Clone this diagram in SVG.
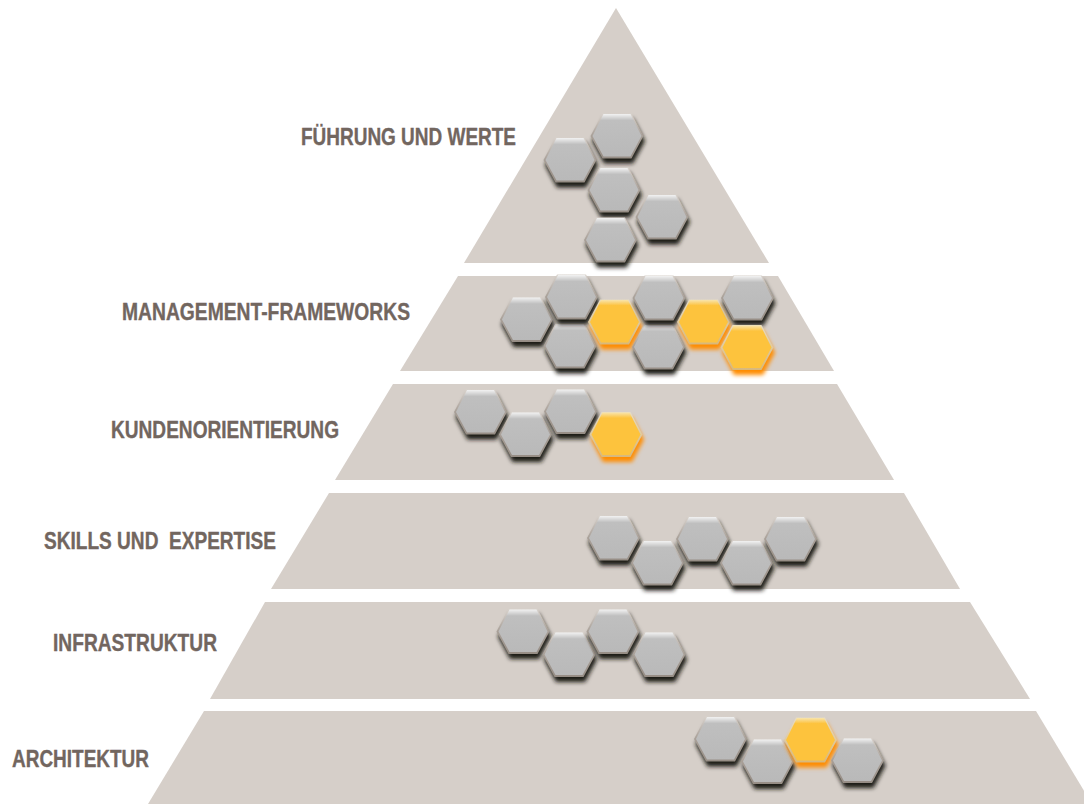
<svg xmlns="http://www.w3.org/2000/svg" width="1084" height="804" viewBox="0 0 1084 804">
<style>
.tier{fill:#d6cfc9}
.lbl{font-family:"Liberation Sans",Arial,sans-serif;font-weight:700;font-size:23px;fill:#72665f;stroke:#72665f;stroke-width:.35px;white-space:pre}
</style>
<defs>
<filter id="b" x="-30%" y="-30%" width="160%" height="160%"><feGaussianBlur stdDeviation="2"/></filter>
<filter id="s" x="-10%" y="-10%" width="120%" height="120%"><feGaussianBlur stdDeviation="0.7"/></filter>
<linearGradient id="gg" x1="0" y1="0" x2="0" y2="1"><stop offset="0" stop-color="#f2f2f2"/><stop offset=".15" stop-color="#bfbfbf"/><stop offset="1" stop-color="#b9b9b9"/></linearGradient>
<linearGradient id="og" x1="0" y1="0" x2="0" y2="1"><stop offset="0" stop-color="#f8e4ac"/><stop offset=".13" stop-color="#fdc33e"/><stop offset="1" stop-color="#fdc33e"/></linearGradient>
<linearGradient id="rg" x1="0" y1="0" x2="0" y2="1"><stop offset="0" stop-color="#d8d2cc"/><stop offset=".5" stop-color="#a89f97"/><stop offset="1" stop-color="#968d85"/></linearGradient>
<linearGradient id="ro" x1="0" y1="0" x2="0" y2="1"><stop offset="0" stop-color="#e6dcc4"/><stop offset="1" stop-color="#d8b87a"/></linearGradient>
<path id="h" d="M-26.500 0L-14.500-22.500H14.500L26.500 0L14.500 22.500H-14.500Z"/>
<path id="hi" d="M-24.500 0L-13.500-22H13.500L24.500 0L13.500 20.500H-13.500Z"/>
<g id="gray">
<use href="#h" x="1.500" y="5" fill="#1f1b19" filter="url(#b)"/>
<g filter="url(#s)"><use href="#h" fill="url(#rg)"/><use href="#hi" fill="url(#gg)"/></g>
</g>
<g id="gold">
<use href="#h" x="1.500" y="5" fill="#ff8c00" filter="url(#b)"/>
<g filter="url(#s)"><use href="#h" fill="url(#ro)"/><use href="#hi" fill="url(#og)"/></g>
</g>
</defs>
<rect width="1084" height="804" fill="#fff"/>
<g id="tier-1">
<path class="tier" d="M616 8L769 263H464Z"/>
<text class="lbl" x="301" y="145" textLength="215" lengthAdjust="spacingAndGlyphs">FÜHRUNG UND WERTE</text>
<use href="#gray" x="570" y="160"/><use href="#gray" x="617" y="136"/><use href="#gray" x="614" y="190"/><use href="#gray" x="662" y="217"/><use href="#gray" x="610.500" y="240"/>
</g>
<g id="tier-2">
<path class="tier" d="M458 276H778L834 371H400Z"/>
<text class="lbl" x="122" y="320" textLength="288" lengthAdjust="spacingAndGlyphs">MANAGEMENT-FRAMEWORKS</text>
<use href="#gray" x="526.500" y="319.500"/><use href="#gray" x="570" y="346"/><use href="#gray" x="571.500" y="297"/><use href="#gold" x="614.500" y="322"/><use href="#gray" x="658.500" y="347"/><use href="#gray" x="659" y="298"/><use href="#gold" x="703.500" y="322"/><use href="#gray" x="747.500" y="298"/><use href="#gold" x="747" y="347.500"/>
</g>
<g id="tier-3">
<path class="tier" d="M393 384H837L894 480H335Z"/>
<text class="lbl" x="111" y="438" textLength="228" lengthAdjust="spacingAndGlyphs">KUNDENORIENTIERUNG</text>
<use href="#gray" x="480.500" y="412"/><use href="#gray" x="525.500" y="434.500"/><use href="#gray" x="570.500" y="411.500"/><use href="#gold" x="616" y="434.500"/>
</g>
<g id="tier-4">
<path class="tier" d="M329 493H904L960 589H271Z"/>
<text class="lbl" x="44" y="549" textLength="232" lengthAdjust="spacingAndGlyphs" xml:space="preserve">SKILLS UND  EXPERTISE</text>
<use href="#gray" x="613.500" y="538"/><use href="#gray" x="657.500" y="563"/><use href="#gray" x="702.500" y="539"/><use href="#gray" x="746.500" y="563"/><use href="#gray" x="790.500" y="539"/>
</g>
<g id="tier-5">
<path class="tier" d="M265 602H970L1030 699H210Z"/>
<text class="lbl" x="53" y="651" textLength="164" lengthAdjust="spacingAndGlyphs">INFRASTRUKTUR</text>
<use href="#gray" x="523" y="631.500"/><use href="#gray" x="569" y="654.500"/><use href="#gray" x="613" y="631.500"/><use href="#gray" x="659" y="654.500"/>
</g>
<g id="tier-6">
<path class="tier" d="M204 711H1036L1092 804H148Z"/>
<text class="lbl" x="12" y="767" textLength="137" lengthAdjust="spacingAndGlyphs">ARCHITEKTUR</text>
<use href="#gray" x="720.500" y="739"/><use href="#gray" x="767.500" y="761.500"/><use href="#gold" x="810.500" y="740"/><use href="#gray" x="857.500" y="760.500"/>
</g>
</svg>
